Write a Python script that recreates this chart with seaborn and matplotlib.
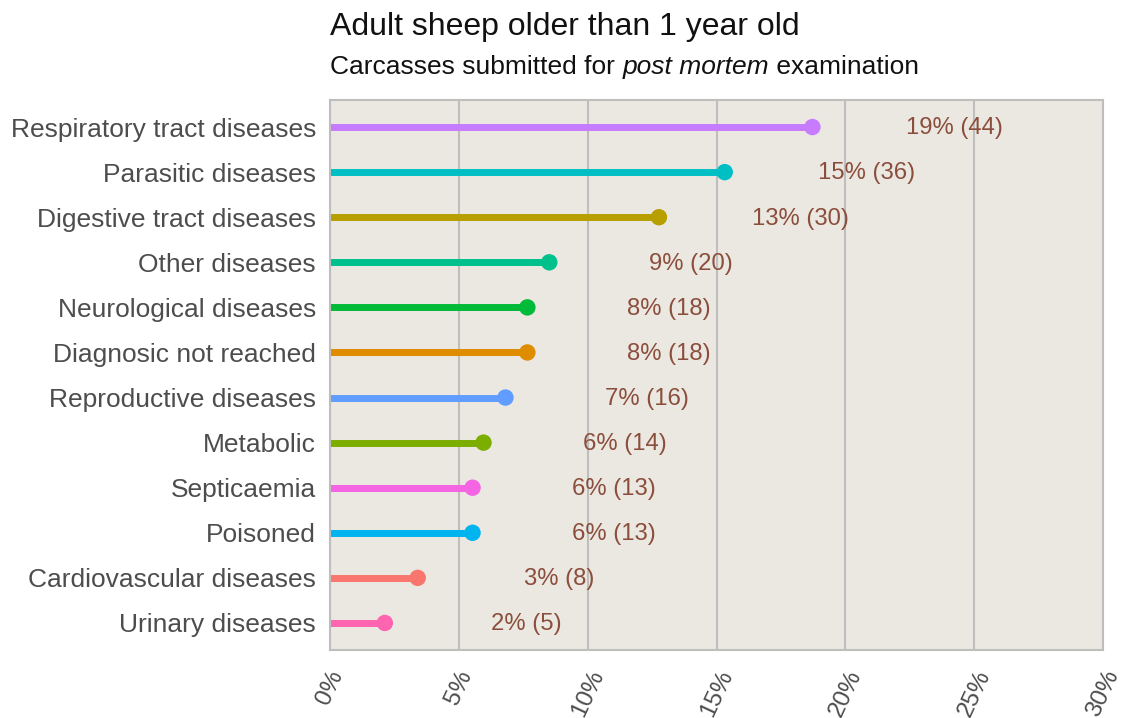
import matplotlib
matplotlib.use("Agg")
import matplotlib.pyplot as plt
import seaborn as sns
import numpy as np
import pandas as pd
from matplotlib.ticker import PercentFormatter

categories = ["Respiratory tract diseases", "Parasitic diseases",
              "Digestive tract diseases", "Other diseases",
              "Neurological diseases", "Diagnosic not reached",
              "Reproductive diseases", "Metabolic", "Septicaemia",
              "Poisoned", "Cardiovascular diseases", "Urinary diseases"]
counts = [44, 36, 30, 20, 18, 18, 16, 14, 13, 13, 8, 5]
colours = ["#C77CFF", "#00BFC4", "#B79F00", "#00C08B", "#00BA38", "#DE8C00",
           "#619CFF", "#7CAE00", "#F564E3", "#00B4F0", "#F8766D", "#FF64B0"]

df = pd.DataFrame({"category": categories, "n": counts})
df["pct"] = df["n"] / df["n"].sum() * 100
df["label"] = [f"{round(p):.0f}% ({n})" for p, n in zip(df["pct"], df["n"])]

sns.set_style("white")
plt.rcParams["font.family"] = ["Liberation Sans", "DejaVu Sans"]

W, H = 1126, 718
fig = plt.figure(figsize=(W / 100, H / 100), dpi=100)
ax = fig.add_axes([330 / W, 1 - 650 / H, (1103 - 330) / W, 550 / H])
ax.set_facecolor("#EBE8E2")

ypos = np.arange(len(df))
ax.hlines(ypos, 0, df["pct"], colors=colours, linewidth=5, zorder=2)
sns.scatterplot(x=df["pct"], y=ypos, hue=df["category"], palette=colours,
                s=140, linewidth=0, legend=False, ax=ax, zorder=3)
for y, p, lab in zip(ypos, df["pct"], df["label"]):
    ax.text(p + 5.5, y + 0.03, lab, ha="center", va="center", color="#8B4E3C",
            fontsize=17.2)

ax.set_xlim(0, 30)
ax.set_ylim(len(df) - 0.4, -0.6)
ax.set_xticks(np.arange(0, 31, 5))
ax.xaxis.set_major_formatter(PercentFormatter(decimals=0))
ax.set_yticks(ypos)
ax.set_yticklabels(df["category"])
ax.grid(axis="x", color="#BEBEBE", linewidth=1.5)
ax.set_axisbelow(True)
for s in ax.spines.values():
    s.set_color("#BEBEBE")
    s.set_linewidth(1.5)
ax.tick_params(axis="y", length=0, pad=10, labelsize=19, labelcolor="#4D4D4D")
ax.tick_params(axis="x", length=0, pad=12, labelsize=17.5, labelcolor="#4D4D4D")
for t in ax.get_xticklabels():
    t.set_rotation(65)
    t.set_ha("center")
    t.set_va("top")
ax.set_xlabel("")
ax.set_ylabel("")

fig.text(330 / W, 1 - 35 / H, "Adult sheep older than 1 year old",
         fontsize=23, va="baseline", color="#111111")

# subtitle with italic middle part
renderer = fig.canvas.get_renderer()
x0 = 330 / W
for piece, style in [("Carcasses submitted for ", "normal"),
                     ("post mortem", "italic"),
                     (" examination", "normal")]:
    t = fig.text(x0, 1 - 74 / H, piece, fontsize=19, style=style,
                 va="baseline", color="#111111")
    bb = t.get_window_extent(renderer=renderer)
    x0 += bb.width / W

fig.savefig("out.png", dpi=100)
